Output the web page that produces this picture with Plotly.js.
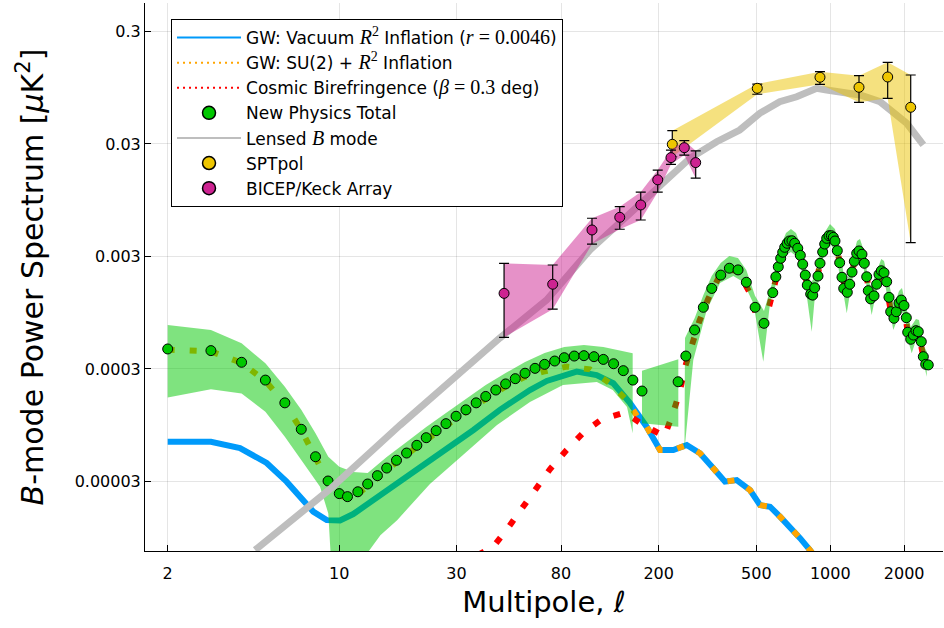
<!DOCTYPE html>
<html><head><meta charset="utf-8">
<script src="https://cdn.plot.ly/plotly-3.0.1.min.js"></script>
<style>body{margin:0;background:#fff}#chart{width:944px;height:628px}</style>
</head><body><div id="chart"></div>
<script>
const ellTicks = [2,10,30,80,200,500,1000,2000];
const valTicks = [0.3,0.03,0.003,0.0003,0.00003];
const valTickText = ['0.3','0.03','0.003','0.0003','0.00003'];

// GW: Vacuum R^2 inflation
const vacEll = [2,3,3.94,5.06,6.1,7.13,7.83,8.89,10.07,11.4,13.76,18.8,25.7,35.2,45.1,59.8,70,92.7,111.7,130.6,152.9,178.6,202.5,229.4,260.2,294.6,333.8,372.4,415.7,471,517.3,568.3,624,685,753,826.5,866];
const vacVal = [6.77e-5,6.77e-5,5.95e-5,4.38e-5,2.99e-5,2.05e-5,1.62e-5,1.36e-5,1.35e-5,1.54e-5,2.05e-5,3.36e-5,5.37e-5,8.61e-5,1.30e-4,1.95e-4,2.35e-4,2.84e-4,2.65e-4,2.24e-4,1.49e-4,9.2e-5,5.71e-5,5.71e-5,6.33e-5,5.34e-5,3.93e-5,2.99e-5,3.09e-5,2.52e-5,1.85e-5,1.79e-5,1.46e-5,1.19e-5,9.4e-6,7.38e-6,6.4e-6];

// GW: SU(2) + R^2 inflation
const su2Ell = [2,3,4,5,6,7,8,9,10,11,12,13,15.6,18.8,22.6,27.2,32.8,39.5,47.6,57.1,67.8,84.4,105,126.7,148.2,165,178.6,202.5,229.4,260.2,294.6,333.8,372.4,415.7,471,517.3,568.3,624,685,753,826.5,866];
const su2Val = [4.45e-4,4.3e-4,3.4e-4,2.35e-4,1.48e-4,8.6e-5,4.9e-5,2.95e-5,2.25e-5,2.12e-5,2.35e-5,2.75e-5,3.8e-5,5.2e-5,7.1e-5,9.4e-5,1.25e-4,1.64e-4,2.1e-4,2.55e-4,2.84e-4,3.15e-4,2.98e-4,2.24e-4,1.59e-4,1.1e-4,9.2e-5,5.71e-5,5.71e-5,6.33e-5,5.34e-5,3.93e-5,2.99e-5,3.09e-5,2.52e-5,1.85e-5,1.79e-5,1.46e-5,1.19e-5,9.4e-6,7.38e-6,6.4e-6];

// Cosmic birefringence
const biEll = [36.7,42.4,48.8,55.3,63.3,72.1,83.8,98,117,145,176,211,229,244,256,272,293,318,350,388,421,471,501,525,554,583,628,667,698,737,772,806,840,864,908,949,988,1029,1068,1116,1160,1200,1253,1309,1346,1407,1460,1507,1579,1613,1655,1734,1790,1857,1946,1996,2067,2126,2234,2283,2393,2507];
const biVal = [6.67e-6,7.89e-6,1.17e-5,1.74e-5,2.61e-5,3.85e-5,5.63e-5,8.04e-5,1.07e-4,1.23e-4,9.34e-5,7.57e-5,1.22e-4,1.91e-4,3.11e-4,5.0e-4,8.0e-4,1.26e-3,1.92e-3,2.30e-3,2.22e-3,1.41e-3,8.75e-4,7.2e-4,9.38e-4,1.43e-3,2.89e-3,3.93e-3,4.14e-3,3.55e-3,2.56e-3,1.67e-3,1.30e-3,1.58e-3,2.61e-3,3.87e-3,4.59e-3,4.44e-3,3.38e-3,1.96e-3,1.40e-3,1.70e-3,2.72e-3,3.36e-3,3.14e-3,1.98e-3,1.22e-3,1.34e-3,2.08e-3,2.24e-3,2.15e-3,1.30e-3,8.2e-4,9.69e-4,1.23e-3,1.10e-3,6.36e-4,5.51e-4,6.57e-4,6.44e-4,3.86e-4,3.26e-4];

// New Physics Total
const totalEll = [2,3,4,5,6,7,8,9,10,10.8,11.9,13.05,14.3,15.6,17.1,18.8,20.7,22.6,24.8,27.2,29.9,32.8,36.1,39.5,43.4,47.6,52.1,57.1,62.7,68.6,75.4,82.5,90.6,99.2,109,119,131,143.5,157,171,240,258,280,304,329,358,388,421,455,494,537,583,600,614,628,640,652,667,681,698,716,737,755,772,791,806,832,848,864,891,908,931,949,967,988,1010,1029,1045,1068,1092,1116,1134,1173,1200,1226,1253,1281,1309,1346,1376,1407,1428,1460,1507,1545,1579,1613,1655,1697,1734,1762,1817,1857,1905,1946,1996,2040,2067,2126,2179,2234,2283,2348,2393,2447,2507];
const totalVal = [4.52e-4,4.37e-4,3.44e-4,2.39e-4,1.50e-4,8.73e-5,4.98e-5,3.03e-5,2.34e-5,2.20e-5,2.43e-5,2.85e-5,3.38e-5,3.95e-5,4.63e-5,5.37e-5,6.29e-5,7.35e-5,8.49e-5,9.80e-5,1.14e-4,1.30e-4,1.50e-4,1.71e-4,1.95e-4,2.21e-4,2.46e-4,2.75e-4,3.04e-4,3.30e-4,3.53e-4,3.78e-4,3.91e-4,3.94e-4,3.86e-4,3.65e-4,3.34e-4,2.90e-4,2.39e-4,1.91e-4,2.31e-4,3.91e-4,6.67e-4,1.06e-3,1.56e-3,2.05e-3,2.36e-3,2.28e-3,1.77e-3,1.06e-3,7.64e-4,1.43e-3,1.98e-3,2.43e-3,2.89e-3,3.27e-3,3.62e-3,3.93e-3,4.12e-3,4.14e-3,3.93e-3,3.55e-3,3.07e-3,2.56e-3,2.05e-3,1.67e-3,1.39e-3,1.36e-3,1.58e-3,2.01e-3,2.61e-3,3.29e-3,3.87e-3,4.35e-3,4.59e-3,4.59e-3,4.44e-3,4.12e-3,3.38e-3,2.64e-3,1.96e-3,1.56e-3,1.44e-3,1.70e-3,2.18e-3,2.72e-3,3.20e-3,3.36e-3,3.14e-3,2.61e-3,1.98e-3,1.49e-3,1.26e-3,1.34e-3,1.70e-3,2.08e-3,2.24e-3,2.15e-3,1.79e-3,1.30e-3,9.69e-4,8.47e-4,9.69e-4,1.16e-3,1.23e-3,1.10e-3,8.57e-4,6.36e-4,5.51e-4,6.01e-4,6.57e-4,6.44e-4,5.25e-4,3.86e-4,3.30e-4,3.26e-4];

// New Physics Total uncertainty band (three pieces)
const band1UpEll = [2,3,4,5,6,7,8,9.02,10,11.4,13.05,15.6,18.8,22.6,27.2,32.8,39.5,47.6,57.1,68.6,82.5,99.2,119,156.7];
const band1UpVal = [7.38e-4,6.67e-4,5.07e-4,3.37e-4,2.09e-4,1.30e-4,8.04e-5,4.98e-5,4.06e-5,3.64e-5,3.57e-5,4.95e-5,6.73e-5,9.15e-5,1.22e-4,1.62e-4,2.16e-4,2.76e-4,3.46e-4,4.16e-4,4.71e-4,4.90e-4,4.71e-4,4.14e-4];
const band1LoEll = [2,3,4,5,6,7,8.35,9.02,9.25,12.4,14.7,17.2,23.4,31.9,43.9,59.8,81.5,112,130,148.6,156.7];
const band1LoVal = [1.67e-4,1.98e-4,1.82e-4,1.25e-4,7.5e-5,4.66e-5,2.7e-5,1.56e-5,6.0e-6,6.0e-6,1.0e-5,1.36e-5,2.85e-5,5.16e-5,9.53e-5,1.53e-4,2.16e-4,2.30e-4,1.95e-4,1.38e-4,8.04e-5];
const band2Ell = [171,240.4];
const band2UpVal = [2.90e-4,3.66e-4];
const band2LoVal = [9.87e-5,9.20e-5];
const band3UpEll = [256,280.4,303.9,328.8,357.8,387.8,420.7,454.8,493.5,537,582.9,628.3,660,691.5,725,767,804,834,866,908,951,997,1045,1095,1137,1173,1226,1285,1321,1372,1424,1465,1536,1613,1655,1734,1818,1905,1959,2034,2126,2234,2298,2393,2477];
const band3UpVal = [5.66e-4,8.51e-4,1.36e-3,2.01e-3,2.62e-3,3.03e-3,2.91e-3,2.28e-3,1.34e-3,9.84e-4,1.82e-3,3.72e-3,4.85e-3,5.26e-3,4.85e-3,3.43e-3,2.18e-3,1.74e-3,2.01e-3,3.36e-3,4.95e-3,5.83e-3,5.26e-3,3.43e-3,2.01e-3,1.82e-3,2.79e-3,4.12e-3,4.29e-3,3.36e-3,1.89e-3,1.61e-3,2.14e-3,2.85e-3,2.73e-3,1.67e-3,1.09e-3,1.48e-3,1.57e-3,1.09e-3,7.08e-4,8.34e-4,8.17e-4,4.90e-4,4.25e-4];
const band3LoEll = [254.7,276.7,313.7,355.4,402.6,442.2,485.8,533.5,568.1,599.4,624,660,691.5,725,753,774,796,840,866,891,925,960,1007,1045,1085,1116,1167,1203,1249,1309,1359,1411,1474,1536,1594,1670,1734,1805,1869,1941,2016,2073,2146,2234,2298,2386,2470];
const band3LoVal = [5.71e-5,3.61e-4,1.00e-3,1.74e-3,2.01e-3,1.78e-3,1.15e-3,3.48e-4,1.15e-3,1.67e-3,2.37e-3,3.09e-3,3.29e-3,3.03e-3,2.57e-3,2.05e-3,1.51e-3,6.44e-4,1.34e-3,1.67e-3,2.68e-3,3.57e-3,3.79e-3,3.29e-3,2.28e-3,1.67e-3,9.38e-4,1.42e-3,2.28e-3,2.73e-3,2.52e-3,1.61e-3,9.06e-4,1.42e-3,1.82e-3,1.71e-3,1.11e-3,6.67e-4,8.17e-4,1.00e-3,8.51e-4,5.43e-4,4.14e-4,5.43e-4,5.21e-4,3.61e-4,2.56e-4];

// Lensed B mode
const lensEll = [4.54,9.17,17.7,30.1,45.1,69.9,105,152.8,202.5,268.2,344.6,427.6,515.8,622.3,729.6,880.4,966.6,1095,1321,1594,1806,2048,2393];
const lensVal = [7.38e-6,2.57e-5,9.53e-5,2.60e-4,5.66e-4,1.23e-3,3.43e-3,7.26e-3,1.30e-2,2.24e-2,3.14e-2,3.99e-2,5.62e-2,7.13e-2,7.89e-2,9.38e-2,9.06e-2,8.65e-2,8.18e-2,7.13e-2,5.62e-2,4.58e-2,2.94e-2];

// SPTpol bandpowers
const sptEll = [227.2,504.2,907.8,1309,1713,2126];
const sptVal = [2.98e-2,9.38e-2,0.1175,0.0957,0.1182,0.0636];
const sptUp  = [3.94e-2,0.1023,0.1318,0.1214,0.1596,0.1231];
const sptLo  = [2.31e-2,8.30e-2,0.1018,0.0704,0.0764,3.98e-3];

// BICEP/Keck bandpowers
const bkEll = [46.9,74.0,107,138.8,169,198.2,224.4,254.3,283];
const bkVal = [1.41e-3,1.70e-3,5.16e-3,6.69e-3,8.61e-3,1.44e-2,2.27e-2,2.78e-2,2.05e-2];
const bkUp  = [2.61e-3,2.52e-3,6.56e-3,8.31e-3,1.12e-2,1.76e-2,2.65e-2,3.21e-2,2.61e-2];
const bkLo  = [5.74e-4,1.02e-3,3.87e-3,5.24e-3,6.33e-3,1.12e-2,1.98e-2,2.39e-2,1.49e-2];

const M = (s) => '<span style="font-family:\'Liberation Serif\', serif;font-size:20px">' + s + '</span>';
const names = [
  'GW: Vacuum ' + M('<i>R</i><sup>2</sup>') + ' Inflation (' + M('<i>r</i> = 0.0046') + ')',
  'GW: SU(2) + ' + M('<i>R</i><sup>2</sup>') + ' Inflation',
  'Cosmic Birefringence (' + M('<i>β</i> = 0.3') + ' deg)',
  'New Physics Total',
  'Lensed ' + M('<i>B</i>') + ' mode',
  'SPTpol',
  'BICEP/Keck Array'
];

const C = {
  blue: '#009AFA', orange: 'rgb(255,165,0)', red: 'rgb(255,0,0)',
  green: 'rgb(0,200,0)', greenBand: 'rgba(0,200,0,0.5)',
  gray: 'rgb(190,190,190)',
  yellow: 'rgb(238,198,0)', yellowBand: 'rgba(235,195,0,0.5)',
  pink: 'rgb(205,35,145)', pinkBand: 'rgba(205,35,145,0.5)'
};

function poly(ux, uy, lx, ly) {
  return {x: ux.concat(lx.slice().reverse()), y: uy.concat(ly.slice().reverse())};
}
function bandTrace(p, color) {
  return {x: p.x, y: p.y, type: 'scatter', mode: 'lines', fill: 'toself',
    fillcolor: color, line: {width: 0, color: color}, hoverinfo: 'skip', showlegend: false};
}
const dotDash = '7px,15px';
const mk = (c) => ({color: c, size: 10, line: {color: 'black', width: 1}});

const traces = [
  {x: vacEll, y: vacVal, type: 'scatter', mode: 'lines', line: {color: C.blue, width: 6}, showlegend: false},
  {x: su2Ell, y: su2Val, type: 'scatter', mode: 'lines', line: {color: C.orange, width: 6, dash: dotDash}, showlegend: false},
  {x: biEll, y: biVal, type: 'scatter', mode: 'lines', line: {color: C.red, width: 6, dash: dotDash}, showlegend: false},
  bandTrace(poly(band1UpEll, band1UpVal, band1LoEll, band1LoVal), C.greenBand),
  bandTrace(poly(band2Ell, band2UpVal, band2Ell, band2LoVal), C.greenBand),
  bandTrace(poly(band3UpEll, band3UpVal, band3LoEll, band3LoVal), C.greenBand),
  {x: totalEll, y: totalVal, type: 'scatter', mode: 'markers', marker: mk(C.green), showlegend: false},
  {x: lensEll, y: lensVal, type: 'scatter', mode: 'lines', line: {color: C.gray, width: 7}, showlegend: false},
  bandTrace(poly(sptEll, sptUp, sptEll, sptLo), C.yellowBand),
  {x: sptEll, y: sptVal, type: 'scatter', mode: 'markers', marker: mk(C.yellow), showlegend: false,
   error_y: {type: 'data', symmetric: false, array: sptUp.map((u, i) => u - sptVal[i]),
     arrayminus: sptLo.map((l, i) => sptVal[i] - l), color: 'black', thickness: 1.2, width: 5}},
  bandTrace(poly(bkEll, bkUp, bkEll, bkLo), C.pinkBand),
  {x: bkEll, y: bkVal, type: 'scatter', mode: 'markers', marker: mk(C.pink), showlegend: false,
   error_y: {type: 'data', symmetric: false, array: bkUp.map((u, i) => u - bkVal[i]),
     arrayminus: bkLo.map((l, i) => bkVal[i] - l), color: 'black', thickness: 1.2, width: 5}},
  // legend entries
  {x: [null], y: [null], type: 'scatter', mode: 'lines', name: names[0], line: {color: C.blue, width: 2}},
  {x: [null], y: [null], type: 'scatter', mode: 'lines', name: names[1], line: {color: C.orange, width: 2, dash: '2px,4px'}},
  {x: [null], y: [null], type: 'scatter', mode: 'lines', name: names[2], line: {color: C.red, width: 2, dash: '2px,4px'}},
  {x: [null], y: [null], type: 'scatter', mode: 'markers', name: names[3], marker: {color: C.green, size: 13, line: {color: 'black', width: 1.5}}},
  {x: [null], y: [null], type: 'scatter', mode: 'lines', name: names[4], line: {color: C.gray, width: 2}},
  {x: [null], y: [null], type: 'scatter', mode: 'markers', name: names[5], marker: {color: C.yellow, size: 13, line: {color: 'black', width: 1.5}}},
  {x: [null], y: [null], type: 'scatter', mode: 'markers', name: names[6], marker: {color: C.pink, size: 13, line: {color: 'black', width: 1.5}}}
];

const font = 'DejaVu Sans, sans-serif';
const layout = {
  width: 944, height: 628,
  margin: {l: 145, r: 1, t: 3, b: 77},
  paper_bgcolor: 'white', plot_bgcolor: 'white',
  font: {family: font, color: 'black', size: 16},
  showlegend: true,
  legend: {x: 0.0326, y: 0.9708, xanchor: 'left', yanchor: 'top',
    bgcolor: 'white', bordercolor: 'black', borderwidth: 1,
    font: {family: font, size: 17, color: 'black'}, itemwidth: 64, tracegroupgap: 0,
    entrywidth: 420, entrywidthmode: 'pixels'},
  xaxis: {type: 'log', range: [0.2086, 3.4591], tickvals: ellTicks, ticktext: ellTicks.map(String),
    ticks: 'inside', ticklen: 6, tickcolor: 'black', showline: true, linecolor: 'black', linewidth: 1,
    showgrid: true, gridcolor: 'rgba(0,0,0,0.1)', zeroline: false, mirror: false,
    tickfont: {family: font, size: 16}, ticklabelstandoff: 8,
    title: {text: 'Multipole, <i>ℓ</i>', font: {family: font, size: 29}, standoff: 9}},
  yaxis: {type: 'log', range: [-5.1408, -0.2697], tickvals: valTicks, ticktext: valTickText,
    ticks: 'inside', ticklen: 6, tickcolor: 'black', showline: true, linecolor: 'black', linewidth: 1,
    showgrid: true, gridcolor: 'rgba(0,0,0,0.1)', zeroline: false, mirror: false,
    tickfont: {family: font, size: 16},
    title: {text: '<i>B</i>-mode Power Spectrum [<i>μ</i>K<sup>2</sup>]', font: {family: font, size: 30}, standoff: 22}}
};

Plotly.newPlot('chart', traces, layout, {displayModeBar: false, staticPlot: true});
</script></body></html>
